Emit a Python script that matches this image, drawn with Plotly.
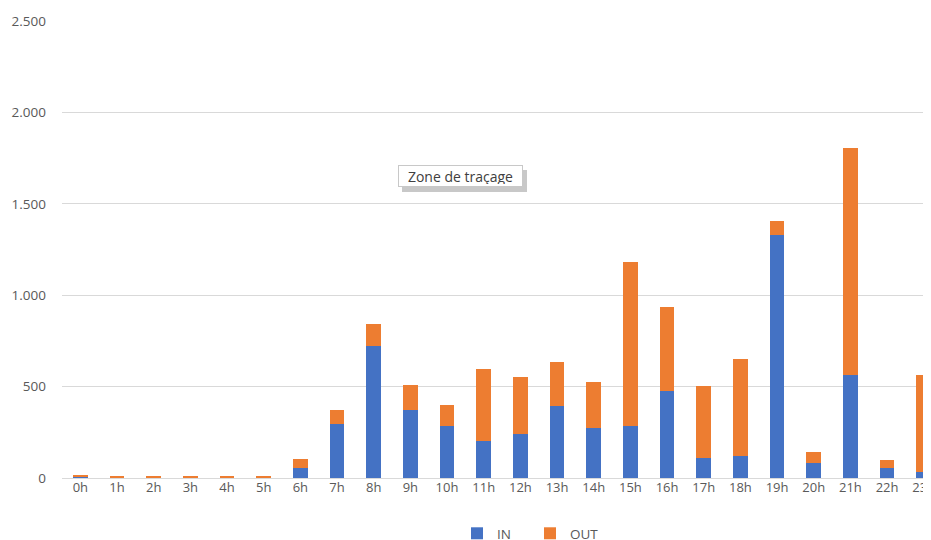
import plotly.graph_objects as go

hours = [f"{h}h" for h in range(24)]
in_vals = [9, 1, 1, 1, 1, 1, 53, 293, 722, 373, 286, 204, 242, 395, 271, 286, 475, 111, 118, 1327, 82, 562, 53, 31]
out_vals = [8, 6, 6, 6, 6, 6, 51, 80, 118, 138, 116, 394, 313, 240, 253, 894, 458, 391, 531, 80, 58, 1245, 44, 531]
y_ticks = [0, 500, 1000, 1500, 2000, 2500]

FONT = "Segoe UI, Open Sans, Noto Sans, sans-serif"
GRAY = "#595959"

OFF = 8  # page body margin
W, H = 931, 540
L, T = 62 - OFF, 20.7 - OFF
BOTTOM = 478.4 - OFF
B = H - BOTTOM
PW, PH = W - L, BOTTOM - T
STEP = 36.67
XMAX = -0.5 + PW / STEP

def px(x):
    return (x - OFF - L) / PW

def py(y):
    return (BOTTOM - (y - OFF)) / PH

fig = go.Figure()
fig.add_trace(go.Bar(x=list(range(24)), y=in_vals, name="IN", marker=dict(color="#4472C4", line=dict(width=0)), width=0.4))
fig.add_trace(go.Bar(x=list(range(24)), y=out_vals, name="OUT", marker=dict(color="#ED7D31", line=dict(width=0)), width=0.4))

fig.update_layout(
    barmode="stack",
    width=W, height=H,
    margin=dict(l=L, r=0, t=T, b=B, autoexpand=False),
    paper_bgcolor="white", plot_bgcolor="white",
    separators=",.",
    font=dict(family=FONT, size=12, color=GRAY),
    showlegend=True,
    legend=dict(orientation="h", traceorder="normal", x=px(457), xanchor="left",
                y=py(534), yanchor="middle",
                font=dict(size=13.5, color=GRAY), entrywidth=28, itemwidth=30),
    xaxis=dict(range=[-0.5, XMAX], tickvals=list(range(24)), ticktext=hours,
               showgrid=False, zeroline=False, showline=False, ticks="",
               automargin=False,
               tickfont=dict(size=13, color=GRAY), fixedrange=True),
    yaxis=dict(range=[0, 2500], tickvals=y_ticks, tickformat=",d",
               showgrid=True, gridcolor="#d9d9d9", gridwidth=1,
               zeroline=True, zerolinecolor="#d9d9d9", zerolinewidth=1,
               showline=False, ticks="", ticklabelstandoff=15, automargin=False,
               tickfont=dict(size=13.5, color=GRAY)),
)

# tooltip-like label "Zone de traçage"
fig.add_shape(type="rect", xref="paper", yref="paper",
              x0=px(402), x1=px(527), y0=py(192), y1=py(170),
              fillcolor="#9a9a9a", line=dict(width=0), opacity=0.55, layer="above")
fig.add_annotation(xref="paper", yref="paper",
                   x=px(398), y=py(176),
                   xanchor="left", yanchor="middle",
                   text="Zone de traçage", showarrow=False,
                   width=119, height=16, align="center",
                   font=dict(size=14, color="#404040", family=FONT),
                   bgcolor="white", bordercolor="#c8c8c8", borderwidth=1, borderpad=2)

fig.write_html("out.html")
